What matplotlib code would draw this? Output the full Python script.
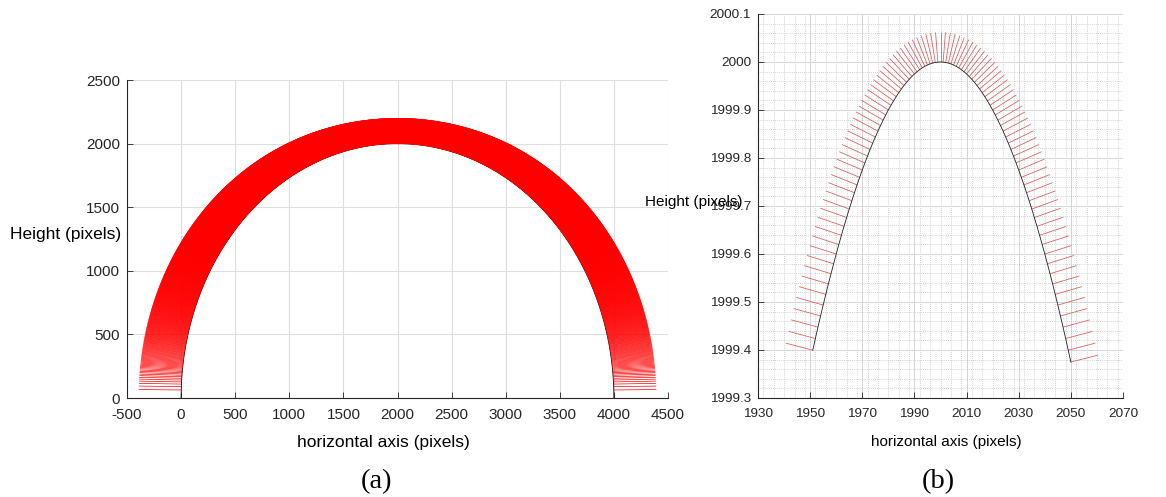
import numpy as np
import matplotlib
matplotlib.use("Agg")
import matplotlib.pyplot as plt
from matplotlib.collections import LineCollection
from matplotlib.ticker import MultipleLocator, FixedLocator

plt.rcParams['font.family'] = ['Liberation Sans', 'DejaVu Sans']
plt.rcParams['axes.unicode_minus'] = False

# Circular arc: centre and radius (pixels)
arc_cx = 2000.0
arc_cy = 0.0
arc_radius = 2000.0

# Panel (a): full arc, one normal per horizontal pixel
a_x_start, a_x_stop = 0, 4000
a_aspect = 1.965      # y/x scaling in which normals are perpendicular
a_reach = 393.0       # normal length (x units in that space)
a_xticks = [-500, 0, 500, 1000, 1500, 2000, 2500, 3000, 3500, 4000, 4500]
a_yticks = [0, 500, 1000, 1500, 2000, 2500]

# Panel (b): close-up of the apex
b_x_start, b_x_stop = 1951, 2050
b_aspect = 170.0
b_reach = 10.6
b_xticks = [1930, 1950, 1970, 1990, 2010, 2030, 2050, 2070]
b_yticks = [1999.3, 1999.4, 1999.5, 1999.6, 1999.7, 1999.8, 1999.9, 2000.0, 2000.1]
b_ylabels = ['1999.3', '1999.4', '1999.5', '1999.6', '1999.7', '1999.8',
             '1999.9', '2000', '2000.1']


def arc_points(x_start, x_stop):
    x = np.arange(x_start, x_stop + 1, dtype=float)
    y = arc_cy + np.sqrt(np.clip(arc_radius ** 2 - (x - arc_cx) ** 2, 0, None))
    return x, y


def normal_segments(x, y, aspect, reach):
    # slope of the circle, normals taken in a space with y scaled by `aspect`
    with np.errstate(divide='ignore', invalid='ignore'):
        s = -(x - arc_cx) / (y - arc_cy)
    big = 1e6
    s = np.where(np.isfinite(s), s, np.sign(arc_cx - x) * big)
    s = np.clip(s, -big, big)
    n = np.sqrt(1.0 + (s * aspect) ** 2)
    dx = -reach * s * aspect / n
    dy = reach / (aspect * n)
    p0 = np.column_stack([x, y])
    p1 = np.column_stack([x + dx, y + dy])
    return np.stack([p0, p1], axis=1)


W, H = 1166, 497
fig = plt.figure(figsize=(W / 100, H / 100), dpi=100)

spine_col = '#262626'


def style_axes(ax, labelsize):
    for side in ('top', 'right'):
        ax.spines[side].set_visible(False)
    for side in ('left', 'bottom'):
        ax.spines[side].set_color(spine_col)
        ax.spines[side].set_linewidth(0.8)
    ax.tick_params(which='major', direction='in', length=4, width=0.6,
                   colors=spine_col, labelsize=labelsize, labelcolor=spine_col)
    ax.tick_params(axis='x', which='major', pad=7)
    ax.tick_params(axis='y', which='major', pad=5)
    ax.tick_params(which='minor', length=0)
    ax.set_axisbelow(True)


# ---------------- panel (a) ----------------
axa = fig.add_axes([127 / W, 1 - 398 / H, 541 / W, 318 / H])
style_axes(axa, 11)
xa, ya = arc_points(a_x_start, a_x_stop)
axa.plot(xa, ya, color='black', lw=0.6, zorder=2)
segs_a = normal_segments(xa, ya, a_aspect, a_reach)
axa.add_collection(LineCollection(segs_a, colors='#ff0000', linewidths=0.5, zorder=3))
axa.set_xlim(a_xticks[0], a_xticks[-1])
axa.set_ylim(a_yticks[0], a_yticks[-1])
axa.set_xticks(a_xticks)
axa.set_yticks(a_yticks)
axa.grid(True, which='major', color='#dedede', lw=0.8)

# ---------------- panel (b) ----------------
axb = fig.add_axes([758 / W, 1 - 398 / H, 365 / W, 384 / H])
style_axes(axb, 9.7)
xb, yb = arc_points(b_x_start, b_x_stop)
segs_b = normal_segments(xb, yb, b_aspect, b_reach)
axb.add_collection(LineCollection(segs_b, colors='#d65a5a', linewidths=0.55, zorder=3))
axb.plot(xb, yb, color='#202020', lw=0.6, zorder=4)
axb.set_xlim(b_xticks[0], b_xticks[-1])
axb.set_ylim(b_yticks[0], b_yticks[-1])
axb.set_xticks(b_xticks)
axb.yaxis.set_major_locator(FixedLocator(b_yticks))
axb.set_yticklabels(b_ylabels)
axb.xaxis.set_minor_locator(MultipleLocator(4))
axb.yaxis.set_minor_locator(MultipleLocator(0.02))
axb.grid(True, which='major', color='#d4d4d4', lw=0.7)
axb.grid(True, which='minor', color='#c4c4c4', lw=0.6, ls=(0, (1, 1.5)))

# ---------------- labels ----------------
fig.text(383 / W, 1 - 442 / H, 'horizontal axis (pixels)', ha='center', va='center',
         fontsize=12.5, color='black')
fig.text(946 / W, 1 - 442 / H, 'horizontal axis (pixels)', ha='center', va='center',
         fontsize=11, color='black')
fig.text(10 / W, 1 - 234 / H, 'Height (pixels)', ha='left', va='center',
         fontsize=12.5, color='black')
fig.text(645 / W, 1 - 202 / H, 'Height (pixels)', ha='left', va='center',
         fontsize=11, color='black')

cap_kw = dict(fontsize=20.5, family=['Liberation Serif', 'DejaVu Serif'],
              ha='center', va='center')
fig.text(377 / W, 1 - 482 / H, '(a)', **cap_kw)
fig.text(938 / W, 1 - 482 / H, '(b)', **cap_kw)

fig.savefig('out.png', dpi=100)
